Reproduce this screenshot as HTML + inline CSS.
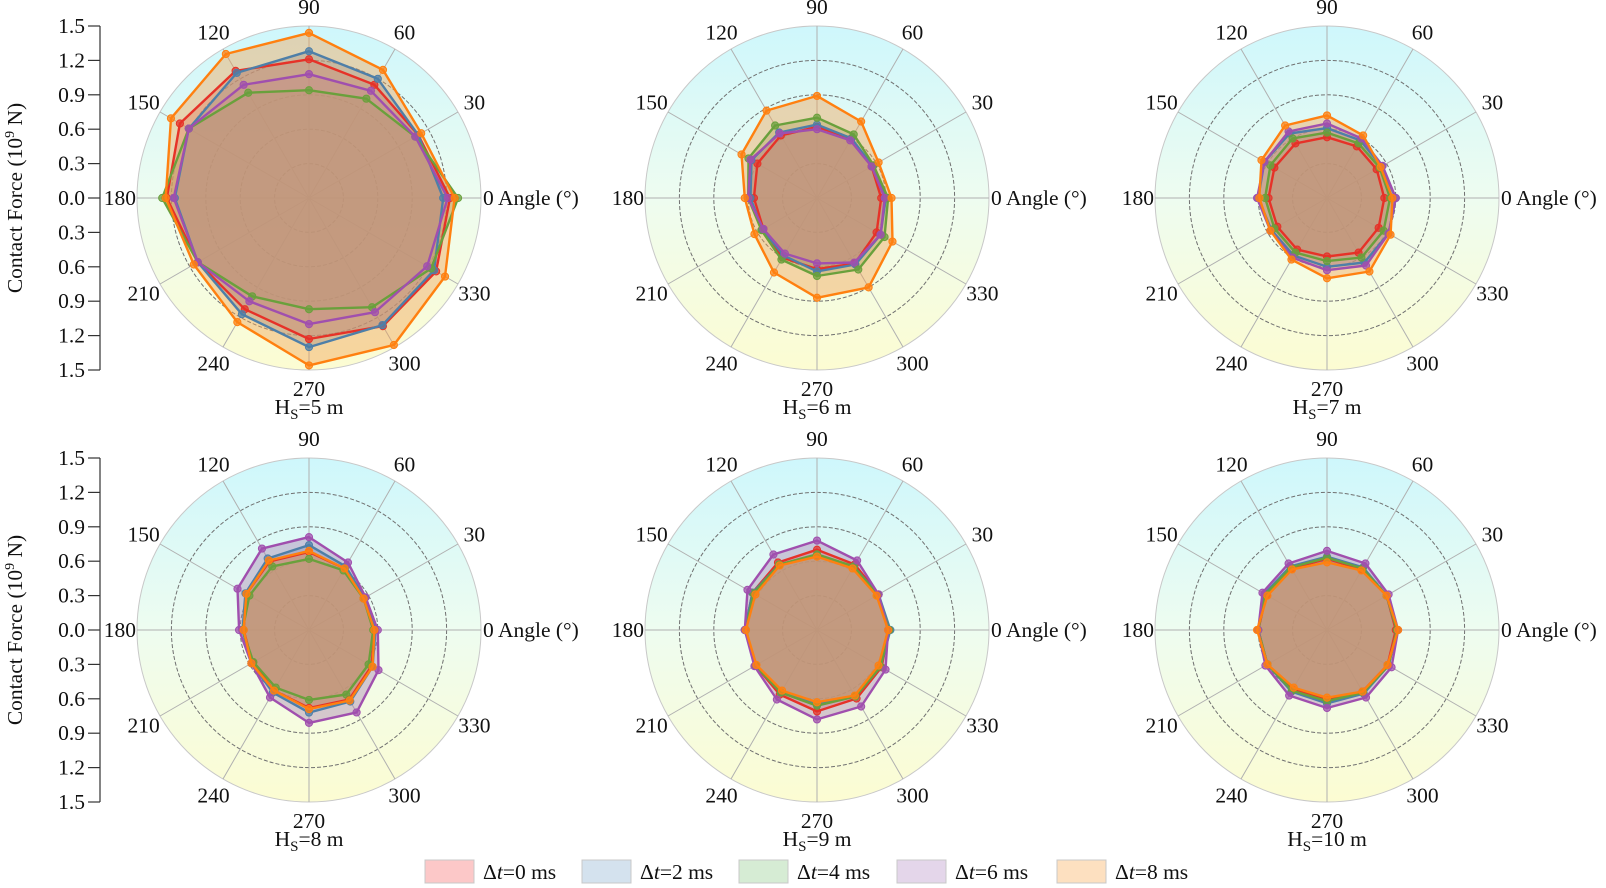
<!DOCTYPE html>
<html><head><meta charset="utf-8">
<style>
body{margin:0;background:#fff;}
svg{display:block;font-family:"Liberation Serif",serif;}
</style></head>
<body>
<svg id="chart" width="1606" height="888" viewBox="0 0 1606 888" xmlns="http://www.w3.org/2000/svg">
<defs>
<linearGradient id="bgGrad" x1="0" y1="0" x2="0" y2="1">
<stop offset="0" stop-color="#cef7fc"/>
<stop offset="0.5" stop-color="#eefcf0"/>
<stop offset="1" stop-color="#fcfcd2"/>
</linearGradient>
</defs>
</svg>
<script>
const angles = [0,30,60,90,120,150,180,210,240,270,300,330];
const seriesNames = ["Δt=0 ms","Δt=2 ms","Δt=4 ms","Δt=6 ms","Δt=8 ms"];
const panelTitles = ["5","6","7","8","9","10"];
const rTicks = [0.3,0.6,0.9,1.2,1.5];
const yTickLabels = ["1.5","1.2","0.9","0.6","0.3","0.0","0.3","0.6","0.9","1.2","1.5"];
const p1red    = [1.23,1.1,1.14,1.21,1.28,1.3,1.24,1.12,1.12,1.23,1.29,1.28];
const p1blue   = [1.17,1.1,1.2,1.28,1.26,1.21,1.17,1.12,1.17,1.3,1.28,1.26];
const p1green  = [1.3,1.07,1.0,0.94,1.06,1.21,1.28,1.12,0.99,0.97,1.1,1.23];
const p1purple = [1.21,1.07,1.08,1.08,1.14,1.21,1.18,1.12,1.04,1.1,1.15,1.19];
const p1orange = [1.27,1.13,1.29,1.44,1.45,1.39,1.25,1.16,1.25,1.46,1.48,1.37];
const p2red    = [0.56,0.55,0.6,0.62,0.63,0.6,0.55,0.54,0.6,0.62,0.66,0.6];
const p2blue   = [0.6,0.56,0.6,0.64,0.66,0.66,0.58,0.55,0.58,0.64,0.67,0.64];
const p2green  = [0.62,0.57,0.64,0.70,0.73,0.69,0.6,0.56,0.62,0.68,0.72,0.68];
const p2purple = [0.59,0.55,0.58,0.6,0.65,0.67,0.6,0.54,0.56,0.57,0.65,0.64];
const p2orange = [0.65,0.62,0.77,0.89,0.88,0.76,0.63,0.63,0.75,0.87,0.9,0.76];
const p3red    = [0.5,0.5,0.52,0.53,0.55,0.53,0.51,0.5,0.52,0.51,0.55,0.52];
const p3blue   = [0.6,0.55,0.58,0.61,0.65,0.63,0.6,0.56,0.58,0.6,0.65,0.62];
const p3green  = [0.55,0.53,0.55,0.57,0.6,0.57,0.54,0.53,0.55,0.55,0.6,0.57];
const p3purple = [0.6,0.56,0.6,0.65,0.67,0.63,0.61,0.57,0.6,0.63,0.68,0.62];
const p3orange = [0.57,0.54,0.63,0.72,0.73,0.66,0.59,0.57,0.62,0.70,0.74,0.64];
const p4red    = [0.57,0.55,0.62,0.68,0.69,0.63,0.57,0.57,0.61,0.68,0.7,0.63];
const p4blue   = [0.58,0.56,0.64,0.74,0.72,0.64,0.58,0.58,0.63,0.72,0.72,0.64];
const p4green  = [0.56,0.55,0.6,0.62,0.64,0.6,0.58,0.56,0.58,0.61,0.65,0.6];
const p4purple = [0.6,0.57,0.68,0.81,0.82,0.72,0.61,0.58,0.68,0.81,0.83,0.70];
const p4orange = [0.57,0.55,0.62,0.69,0.7,0.63,0.57,0.58,0.61,0.69,0.71,0.64];
const p5red    = [0.63,0.62,0.66,0.7,0.68,0.65,0.63,0.62,0.65,0.71,0.69,0.65];
const p5blue   = [0.64,0.62,0.64,0.65,0.66,0.65,0.63,0.62,0.63,0.65,0.67,0.64];
const p5green  = [0.63,0.61,0.64,0.66,0.66,0.64,0.62,0.62,0.63,0.66,0.67,0.64];
const p5purple = [0.62,0.62,0.70,0.78,0.76,0.70,0.63,0.63,0.70,0.78,0.77,0.69];
const p5orange = [0.62,0.6,0.62,0.64,0.65,0.62,0.62,0.61,0.61,0.63,0.66,0.62];
const p6red    = [0.6,0.6,0.61,0.62,0.62,0.61,0.6,0.6,0.6,0.61,0.62,0.61];
const p6blue   = [0.61,0.6,0.63,0.64,0.64,0.63,0.6,0.6,0.62,0.64,0.64,0.62];
const p6green  = [0.61,0.6,0.62,0.63,0.63,0.62,0.6,0.6,0.61,0.62,0.63,0.62];
const p6purple = [0.62,0.62,0.67,0.69,0.67,0.65,0.6,0.62,0.66,0.68,0.68,0.65];
const p6orange = [0.62,0.6,0.6,0.59,0.61,0.6,0.61,0.6,0.58,0.59,0.62,0.61];

const panels = [
 [p1red,p1blue,p1green,p1purple,p1orange],
 [p2red,p2blue,p2green,p2purple,p2orange],
 [p3red,p3blue,p3green,p3purple,p3orange],
 [p4red,p4blue,p4green,p4purple,p4orange],
 [p5red,p5blue,p5green,p5purple,p5orange],
 [p6red,p6blue,p6green,p6purple,p6orange]
];
const strokeCols = ["#e63228","#4e7fa8","#6aa03c","#a04fae","#ff8010"];
const fillCols   = ["#d86a6a","#7090b0","#88a870","#a880b0","#f0a050"];
const legendCols = ["#fcc8c8","#d4e2ee","#d6ecd4","#e4d6ea","#fde0c0"];
const serKeys = ["red","blue","green","purple","orange"];

const NS = "http://www.w3.org/2000/svg";
const svg = document.getElementById("chart");
const R = 172, MAXV = 1.5;
const cxs = [309,817,1327], cys = [198,630];
const FS = 21.5;
function mk(tag, attrs, parent){const e=document.createElementNS(NS,tag);for(const k in attrs)e.setAttribute(k,attrs[k]);(parent||svg).appendChild(e);return e;}
function rScale(v){return v/MAXV*R;}
function px(cx,a,v){return cx+rScale(v)*Math.cos(a*Math.PI/180);}
function py(cy,a,v){return cy-rScale(v)*Math.sin(a*Math.PI/180);}

panels.forEach((data,pi)=>{
  const cx = cxs[pi%3], cy = cys[Math.floor(pi/3)];
  const g = mk("g",{});
  
  
  const bg = mk("circle",{cx:cx,cy:cy,r:R,fill:"url(#bgGrad)",stroke:"#c8c8c8","stroke-width":1},g);
  
  
  rTicks.forEach((t,ti)=>{
    if(ti===rTicks.length-1) return;
    const c = mk("circle",{cx:cx,cy:cy,r:rScale(t),fill:"none",stroke:"#707070","stroke-width":1,"stroke-dasharray":"4 2"},g);
    
    
  });
  angles.forEach(a=>{
    const l = mk("line",{x1:cx,y1:cy,x2:px(cx,a,MAXV),y2:py(cy,a,MAXV),stroke:"#b0b0b0","stroke-width":1},g);
    
    
  });
  data.forEach((vals,si)=>{
    const pts = vals.map((v,i)=>px(cx,angles[i],v).toFixed(1)+","+py(cy,angles[i],v).toFixed(1)).join(" ");
    const poly = mk("polygon",{points:pts,fill:fillCols[si],"fill-opacity":0.42,stroke:"none"},g);
    
    
  });
  data.forEach((vals,si)=>{
    const pts = vals.map((v,i)=>px(cx,angles[i],v).toFixed(1)+","+py(cy,angles[i],v).toFixed(1)).join(" ");
    const line = mk("polygon",{points:pts,fill:"none",stroke:strokeCols[si],"stroke-width":2.4,"stroke-linejoin":"round"},g);
    
    
    vals.forEach((v,i)=>{
      const m = mk("circle",{cx:px(cx,angles[i],v),cy:py(cy,angles[i],v),r:3.6,fill:strokeCols[si],"fill-opacity":0.75,stroke:strokeCols[si],"stroke-width":1},g);
      
      
    });
  });
  angles.forEach(a=>{
    let t;
    if(a===0){
      t = mk("text",{x:cx+R+2,y:cy+7,"font-size":FS,fill:"#111"},g);
      t.textContent = "0 Angle (°)";
    } else if(a===180){
      t = mk("text",{x:cx-R-1,y:cy+7,"font-size":FS,fill:"#111","text-anchor":"end"},g);
      t.textContent = "180";
    } else {
      const rr = R+19;
      t = mk("text",{x:px(cx,a,rr/R*MAXV),y:py(cy,a,rr/R*MAXV)+7,"font-size":FS,fill:"#111","text-anchor":"middle"},g);
      t.textContent = String(a);
    }
    
    
  });
  const title = mk("text",{x:cx,y:cy+216,"font-size":FS,fill:"#111","text-anchor":"middle"},g);
  title.innerHTML = 'H<tspan font-size="15" dy="5">S</tspan><tspan dy="-5">=' + panelTitles[pi] + ' m</tspan>';
  
  
});

cys.forEach((cy,ri)=>{
  const g = mk("g",{});
  
  
  mk("line",{x1:100,y1:cy-R,x2:100,y2:cy+R,stroke:"#333","stroke-width":1.2},g);
  yTickLabels.forEach((lab,i)=>{
    const y = cy-R+i*(2*R/(yTickLabels.length-1));
    mk("line",{x1:88,y1:y,x2:100,y2:y,stroke:"#333","stroke-width":1.2},g);
    const t = mk("text",{x:85,y:y+7,"font-size":FS,fill:"#111","text-anchor":"end"},g);
    t.textContent = lab;
    
    
  });
  const yt = mk("text",{x:0,y:0,"font-size":FS,fill:"#111","text-anchor":"middle",transform:"translate(22,"+cy+") rotate(-90)"},g);
  yt.innerHTML = 'Contact Force (10<tspan font-size="14" dy="-8">9</tspan><tspan dy="8"> N)</tspan>';
  
  
});

const legX = [425,582,739,897,1057];
const lg = mk("g",{});


seriesNames.forEach((n,i)=>{
  const e = mk("g",{},lg);
  
  
  mk("rect",{x:legX[i],y:860,width:49,height:23,fill:legendCols[i],stroke:"#c8c8c8","stroke-width":1},e);
  const t = mk("text",{x:legX[i]+58,y:879,"font-size":FS,fill:"#111"},e);
  t.innerHTML = 'Δ<tspan font-style="italic">t</tspan>' + n.slice(2);
});
</script>
</body></html>
